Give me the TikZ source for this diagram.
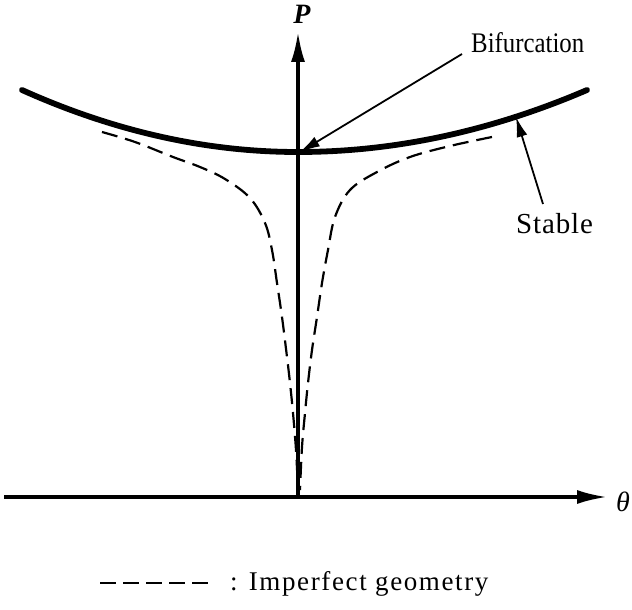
\documentclass[tikz,border=0pt]{standalone}
\usepackage{fontspec}
\setmainfont{Liberation Serif}
\usetikzlibrary{arrows.meta}
\tikzset{
  axisline/.style={line width=3.2pt,-{Latex[length=30pt,width=14pt]}},
  solidcurve/.style={line width=5.8pt,line cap=round},
  imperfect/.style={line width=2.2pt,dash pattern=on 16pt off 8pt},
  pointer/.style={line width=1.8pt,-{Latex[length=20pt,width=11pt]}},
  lbl/.style={inner sep=0pt,font=\fontsize{27}{30}\selectfont},
  axlbl/.style={inner sep=0pt,font=\fontsize{28}{30}\selectfont\itshape}
}
\begin{document}
\begin{tikzpicture}[x=1pt,y=-1pt]
\useasboundingbox (0,0) rectangle (632,610);
% axes
\coordinate (O) at (298,497);
\coordinate (xleft) at (4,497);
\coordinate (xtip) at (607,497);
\coordinate (ptip) at (298,32);
\draw[axisline] (xleft) -- (xtip);
\draw[axisline] (O) -- (ptip);
\node[axlbl] (theta) at (623,502) {θ};
\node[axlbl] (P) at (302,14) {\textbf{P}};
% perfect (solid) curve
\draw[solidcurve] plot[domain=22:298,samples=60] (\x,{152-62*((\x-298)/276)^2})
  -- plot[domain=298:587,samples=60] (\x,{152-62*((\x-298)/289)^2});
% imperfect (dashed) curves
\draw[imperfect] plot[smooth,tension=0.6] coordinates {(102,132) (135,142) (173,157) (200,167) (225,179) (250,198) (265,223) (272,250) (277,283) (282,317) (287,357) (290,383) (293,413) (296,450) (298,490)};
\draw[imperfect] plot[smooth,tension=0.6] coordinates {(492,137) (450,146) (410,157) (377,172) (350,190) (335,217) (328,250) (322,283) (317,317) (312,350) (308,383) (305,413) (302,447) (300,490)};
% labels and pointers
\node[lbl,anchor=base west,xscale=0.92,yscale=1.05] (bif) at (471,53) {Bifurcation};
\coordinate (bifstart) at (462,54);
\coordinate (bifpt) at (300,152);
\draw[pointer] (bifstart) -- (bifpt);
\node[lbl,anchor=base west,font=\fontsize{29}{30}\selectfont\addfontfeature{LetterSpace=3}] (stable) at (516,233) {Stable};
\coordinate (stabstart) at (543,204);
\coordinate (stabpt) at (516,117);
\draw[pointer] (stabstart) -- (stabpt);
% legend
\coordinate (lega) at (100,583);
\coordinate (legb) at (210,583);
\draw[line width=2.2pt,dash pattern=on 16pt off 7pt] (lega) -- (legb);
\node[lbl,anchor=base west,font=\fontsize{27}{30}\selectfont\addfontfeature{LetterSpace=6}] (leg) at (230,590) {: Imperfect geometry};
\end{tikzpicture}
\end{document}
